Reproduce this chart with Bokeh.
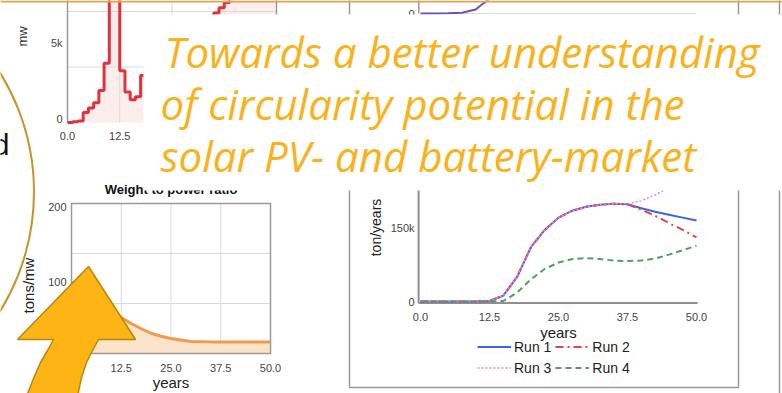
import math
from bokeh.plotting import figure
from bokeh.models import Range1d, Legend, LegendItem
from bokeh.core.properties import value
from bokeh.embed import file_html
from bokeh.resources import INLINE

# ---------------- data ----------------
# top-left chart (power, mw, thousands) - step series
mw_years = [0, 1.25, 2.5, 3.75, 5, 6.25, 7.5, 8.75, 10, 11.25, 12.5, 13.75, 15, 16.25,
            17.5, 18.75, 20, 21.25, 22.5, 23.75, 25, 26.25, 27.5, 28.75, 30, 31.25,
            32.5, 33.75, 35, 36.25, 37.5, 38.75, 40, 41.25, 42.5, 43.75, 45, 46.25,
            47.5, 48.75, 50]
mw_values_k = [0, 0.05, 0.1, 0.65, 0.95, 1.3, 2.1, 3.9, 12.0, 12.0, 3.4, 2.0, 1.5, 1.7,
               3.1, 3.6, 4.0, 4.3, 4.6, 4.9, 5.2, 5.4, 5.7, 5.9, 6.1, 6.3,
               6.55, 6.85, 7.2, 7.55, 7.9, 8.2, 8.5, 8.8, 9.1, 9.4, 9.7, 10.0,
               10.3, 10.6, 10.9]
mw_xticks = [0, 12.5]
mw_xtick_labels = ["0.0", "12.5"]
mw_yticks = [0, 5]
mw_ytick_labels = ["0", "5k"]

# top-middle chart (only its bottom edge is visible)
top_years = [0, 2.5, 5, 7.5, 10, 11, 12, 13]
top_values = [0, 0.05, 0.3, 0.7, 4, 8.5, 12.5, 17]

# bottom-left chart: weight to power ratio
wp_years = [0, 5, 10, 12.5, 15, 17.5, 20, 22.5, 25, 27.5, 30, 35, 40, 45, 50]
wp_ratio = [95, 74, 56, 48, 40, 33, 27, 23, 20, 18, 16, 15.5, 15.5, 15.5, 15.5]
wp_xticks = [12.5, 25, 37.5, 50]
wp_xtick_labels = ["12.5", "25.0", "37.5", "50.0"]
wp_yticks = [100, 200]
wp_ytick_labels = ["100", "200"]

# right chart: ton/years, thousands
run_years = [0, 5, 10, 12.5, 15, 17.5, 20, 22.5, 25, 27.5, 30, 32.5, 35, 37.5, 40, 42.5, 45, 47.5, 50]
run1 = [0, 0, 0, 1, 12, 50, 110, 145, 170, 184, 192, 196, 198, 197, 189, 182, 176, 170, 164]
run2 = [0, 0, 0, 1, 12, 50, 110, 145, 170, 184, 192, 196, 198, 197, 186, 174, 159, 145, 130]
run3 = [0, 0, 0, 1, 12, 50, 110, 145, 170, 184, 192, 196, 198, 198, 204, 216, 231, 246, 262]
run4 = [0, 0, 0, 0, 1, 18, 45, 66, 79, 86, 88, 86, 83, 82, 83, 87, 95, 104, 113]
run_labels = ["Run 1", "Run 2", "Run 3", "Run 4"]
run_xticks = [0, 12.5, 25, 37.5, 50]
run_xtick_labels = ["0.0", "12.5", "25.0", "37.5", "50.0"]
run_yticks = [0, 150]
run_ytick_labels = ["0", "150k"]

title_lines = ["Towards a better understanding",
               "of circularity potential in the",
               "solar PV- and battery-market"]

# ---------------- figure (pixel space of the slide) ----------------
W, H = 782, 393
FX0, FX1 = 0, W
FY_BOTTOM, FY_TOP = H, 0

p = figure(width=W, height=H, x_range=Range1d(FX0, FX1), y_range=Range1d(FY_BOTTOM, FY_TOP),
           output_backend="svg", toolbar_location=None, min_border=0,
           x_axis_location=None, y_axis_location=None,
           background_fill_color="white", border_fill_color="white", outline_line_color=None)
p.grid.visible = False

FONT = value("Liberation Sans")
TICK_COLOR = "#444444"
GRID = "#d9d9d9"
BOX = "#9a9a9a"


def panel(name, px, dx, py, dy):
    (px0, px1), (d0, d1) = px, dx
    sx = (d1 - d0) / (px1 - px0)
    p.extra_x_ranges[name] = Range1d(d0 + (FX0 - px0) * sx, d0 + (FX1 - px0) * sx)
    (py0, py1), (v0, v1) = py, dy
    sy = (v1 - v0) / (py1 - py0)
    p.extra_y_ranges[name] = Range1d(v0 + (FY_BOTTOM - py0) * sy, v0 + (FY_TOP - py0) * sy)
    return dict(x_range_name=name, y_range_name=name)


# ---------- top-left chart ----------
tl = panel("tl", (67, 276), (0, 50), (122, 46), (0, 5))
p.varea_step(x=mw_years, y1=[0] * len(mw_years), y2=mw_values_k, step_mode="after",
             fill_color="#FDEEEE", **tl)
p.segment(x0=[12.5, 25, 37.5], y0=0, x1=[12.5, 25, 37.5], y1=14, line_color=GRID, line_width=1, **tl)
p.segment(x0=0, y0=[10.95 / 3, 2 * 10.95 / 3], x1=50, y1=[10.95 / 3, 2 * 10.95 / 3],
          line_color=GRID, line_width=1, **tl)
p.segment(x0=[0, 50], y0=0, x1=[0, 50], y1=14, line_color=BOX, line_width=1.5, **tl)
p.step(mw_years, mw_values_k, mode="after", line_color="#E5303B", line_width=3, **tl)
p.text(x=mw_xticks, y=0, text=mw_xtick_labels, text_font=FONT, text_font_size="11px",
       text_color=TICK_COLOR, text_align="center", text_baseline="middle", y_offset=13, **tl)
p.text(x=0, y=mw_yticks, text=mw_ytick_labels, text_font=FONT, text_font_size="11px",
       text_color=TICK_COLOR, text_align="right", text_baseline="middle", x_offset=-5, y_offset=-4, **tl)
p.text(x=[22], y=[36], text=["mw"], angle=math.pi / 2, text_font=FONT, text_font_size="13px",
       text_color="#333333", text_align="center", text_baseline="middle")

# ---------- top-middle chart (bottom edge only) ----------
tm = panel("tm", (420, 696), (0, 50), (13, 0), (0, 13))
p.segment(x0=0, y0=0, x1=50, y1=0, line_color="#dddddd", line_width=1, **tm)
p.segment(x0=-0.3, y0=0, x1=-0.3, y1=20, line_color=BOX, line_width=1.5, **tm)
p.line(top_years, top_values, line_color="#6A4FC0", line_width=2, **tm)
p.text(x=[0], y=[0], text=["0"], text_font=FONT, text_font_size="11px", text_color=TICK_COLOR,
       text_align="right", text_baseline="middle", x_offset=-6, **tm)

# ---------- bottom-left chart: Weight to power ratio ----------
wp = panel("wp", (71, 270), (0, 50), (353, 203), (0, 200))
p.segment(x0=[12.5, 25, 37.5], y0=0, x1=[12.5, 25, 37.5], y1=200, line_color=GRID, line_width=1, **wp)
p.segment(x0=0, y0=[200 / 3, 400 / 3], x1=50, y1=[200 / 3, 400 / 3], line_color=GRID, line_width=1, **wp)
p.varea(x=wp_years, y1=[0] * len(wp_years), y2=wp_ratio, fill_color="#FCE4CB", **wp)
p.line(wp_years, wp_ratio, line_color="#EF9A4C", line_width=3, **wp)
p.quad(left=0, right=50, bottom=0, top=200, fill_color=None, line_color=BOX, line_width=1.5, **wp)
p.text(x=wp_xticks, y=0, text=wp_xtick_labels, text_font=FONT, text_font_size="11px",
       text_color=TICK_COLOR, text_align="center", text_baseline="middle", y_offset=14, **wp)
p.text(x=0, y=wp_yticks, text=wp_ytick_labels, text_font=FONT, text_font_size="11px",
       text_color=TICK_COLOR, text_align="right", text_baseline="middle", x_offset=-5, y_offset=3, **wp)
p.text(x=[25], y=[0], text=["years"], text_font=FONT, text_font_size="15px", text_color="#222222",
       text_align="center", text_baseline="middle", y_offset=29, **wp)
p.text(x=[0], y=[100], text=["tons/mw"], angle=math.pi / 2, text_font=FONT, text_font_size="15px",
       text_color="#222222", text_align="center", text_baseline="middle", x_offset=-43, y_offset=7, **wp)
p.text(x=[25], y=[200], text=["Weight to power ratio"], text_font=FONT, text_font_size="13px",
       text_font_style="bold", text_color="#111111", text_align="center", text_baseline="middle",
       y_offset=-14, **wp)

# ---------- right panel frame ----------
p.quad(left=349, right=738, top=-20, bottom=387, fill_color=None, line_color=BOX, line_width=1.5)
p.segment(x0=[779], y0=[-20], x1=[779], y1=[400], line_color=BOX, line_width=1.5)

# ---------- right chart: ton/years ----------
rc = panel("rc", (420, 696), (0, 50), (301, 227), (0, 150))
p.segment(x0=[-0.35, -0.35], y0=[-3, -3], x1=[50.2, -0.35], y1=[-3, 260], line_color="#8f8f8f",
          line_width=2, **rc)
r1 = p.line(run_years, run1, line_color="#3C64E6", line_width=2, **rc)
r2 = p.line(run_years, run2, line_color="#E04848", line_width=2, line_dash="8 4 2 4", **rc)
r3 = p.line(run_years, run3, line_color="#E484EC", line_width=1.5, line_dash="2 2", **rc)
r4 = p.line(run_years, run4, line_color="#4E9E6C", line_width=2, line_dash="6 4", **rc)
p.text(x=run_xticks, y=0, text=run_xtick_labels, text_font=FONT, text_font_size="11px",
       text_color=TICK_COLOR, text_align="center", text_baseline="middle", y_offset=15, **rc)
p.text(x=0, y=run_yticks, text=run_ytick_labels, text_font=FONT, text_font_size="11px",
       text_color=TICK_COLOR, text_align="right", text_baseline="middle", x_offset=-6, **rc)
p.text(x=[25], y=[0], text=["years"], text_font=FONT, text_font_size="15px", text_color="#222222",
       text_align="center", text_baseline="middle", y_offset=31, **rc)
p.text(x=[0], y=[150], text=["ton/years"], angle=math.pi / 2, text_font=FONT, text_font_size="14px",
       text_color="#222222", text_align="center", text_baseline="middle", x_offset=-45, **rc)

legend = Legend(items=[LegendItem(label=l, renderers=[r]) for l, r in zip(run_labels, [r1, r2, r3, r4])],
                location=(477, 17), orientation="horizontal", ncols=2,
                glyph_width=34, glyph_height=17, label_height=17, label_standoff=3, spacing=4,
                padding=0, margin=0, border_line_color=None, background_fill_alpha=0,
                label_text_font="Liberation Sans", label_text_font_size="14px", label_text_color="#222222")
p.add_layout(legend)

# ---------- white title box + title ----------
p.quad(left=143, right=800, top=14, bottom=190, fill_color="white", line_color=None)
p.text(x=[164, 160, 160], y=[51, 103, 155], text=title_lines, text_font=value("Open Sans"),
       text_font_style="italic", text_font_size="42px", text_color="#F9B21B",
       text_align="left", text_baseline="alphabetic")

# ---------- slide decorations: top rule, circle, cut-off word, arrow ----------
p.segment(x0=[0], y0=[1], x1=[W], y1=[1], line_color="#D8A850", line_width=2)
p.circle(x=[-192.8], y=[191.5], radius=226.3, fill_color=None, line_color="#C8922A", line_width=2)
p.text(x=[9], y=[144], text=["d"], text_font=FONT, text_font_size="29px", text_color="#111111",
       text_align="right", text_baseline="alphabetic")
arrow_x = [88, 135, 98, 92, 86, 81, 77, 26, 33, 40, 47, 53, 17]
arrow_y = [266, 339, 339, 350, 362, 377, 396, 396, 378, 362, 350, 339, 339]
p.patch(arrow_x, arrow_y, fill_color="#FDB515", line_color="#B8860B", line_width=1.5)

open("out.html", "w").write(file_html(p, INLINE))
